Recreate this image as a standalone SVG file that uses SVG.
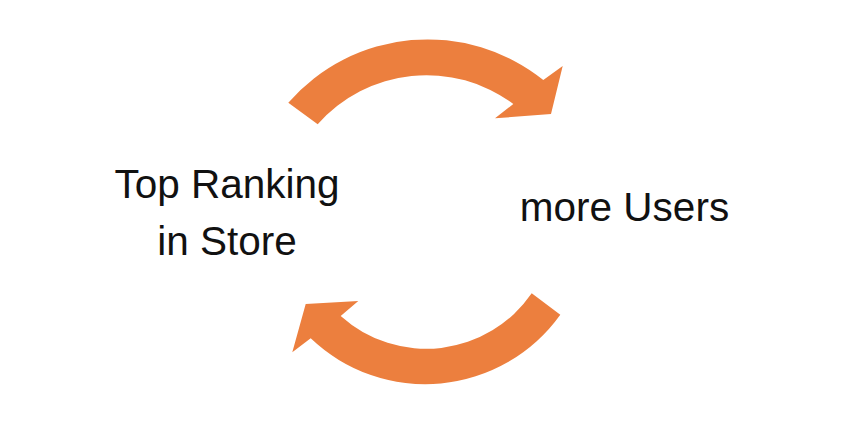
<svg xmlns="http://www.w3.org/2000/svg" width="846" height="436" viewBox="0 0 846 436">
<style>
.arrow{fill:#EC7F3E;stroke:none}
.lbl{font-family:"Liberation Sans",Arial,Helvetica,sans-serif;font-size:40.5px;fill:#111;text-anchor:middle}
</style>
<rect width="846" height="436" fill="#fff"/>
<g id="connectors">
<path id="arrow-top" class="arrow" d="M288.3,102.7 A185,185 0 0 1 543.3,80 L562.7,66 L551,114 L495,118.3 L513.3,104 A145,145 0 0 0 317.7,124.3 Z"/>
<path id="arrow-bottom" class="arrow" d="M560.3,314.7 A166,166 0 0 1 310.7,338.3 L292.3,352.3 L305.7,304 L358.3,301 L340.7,316 A128,128 0 0 0 531.7,293.3 Z"/>
</g>
<g id="node-ranking">
<text class="lbl" x="227" y="198">Top Ranking</text>
<text class="lbl" x="227" y="255">in Store</text>
</g>
<g id="node-users">
<text class="lbl" x="624.5" y="221">more Users</text>
</g>
</svg>
